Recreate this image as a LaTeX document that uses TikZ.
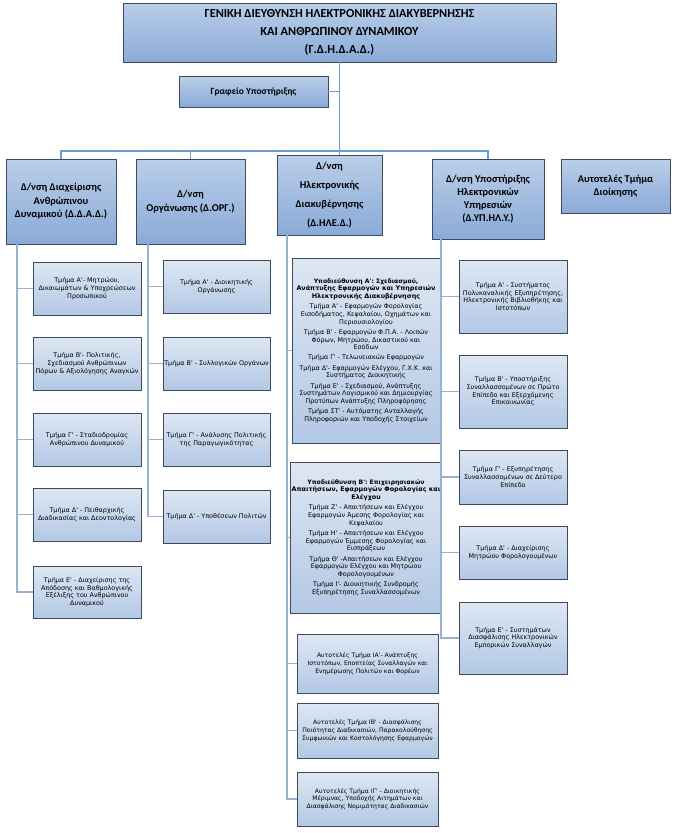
\documentclass[tikz,border=0pt]{standalone}
\usepackage{fontspec}
\setmainfont{Carlito}
\newfontfamily\unitfam{DejaVu Sans}
\usepackage{xcolor}
\usetikzlibrary{positioning,calc}

\definecolor{boxedge}{HTML}{3E4A5C}
\definecolor{headtop}{HTML}{BACEE8}
\definecolor{headbot}{HTML}{8AAAD8}
\definecolor{unittop}{HTML}{DDE7F3}
\definecolor{unitbot}{HTML}{B3C8E5}
\definecolor{linkblue}{HTML}{6A9FD6}
\definecolor{linkgray}{HTML}{9AB0D0}

\newcommand\unitfont{\unitfam\fontsize{6.4}{7.7}\selectfont}
\newcommand\narrowfont{\unitfam\fontsize{6.1}{7.7}\selectfont}

\tikzset{
  headbox/.style={draw=boxedge, line width=0.6pt, top color=headtop, bottom color=headbot,
    align=center, inner sep=1pt, font=\bfseries},
  unitbox/.style={draw=boxedge, line width=0.5pt, top color=unittop, bottom color=unitbot,
    align=center, inner sep=1pt, font=\unitfont},
  mainline/.style={draw=linkblue, line width=1.8pt},
  subline/.style={draw=linkgray, line width=1.4pt},
}

\begin{document}
\begin{tikzpicture}[x=1pt,y=-1pt]
\fill[white] (0,0) rectangle (674,833);
\useasboundingbox (0,0) rectangle (674,833);

% general directorate and office
\node[headbox, minimum width=433, minimum height=59, font=\bfseries\fontsize{12.3}{18}\selectfont]
  (gd) at (339.5,32.5) {ΓΕΝΙΚΗ ΔΙΕΥΘΥΝΣΗ ΗΛΕΚΤΡΟΝΙΚΗΣ ΔΙΑΚΥΒΕΡΝΗΣΗΣ\\ΚΑΙ ΑΝΘΡΩΠΙΝΟΥ ΔΥΝΑΜΙΚΟΥ\\(Γ.Δ.Η.Δ.Α.Δ.)};
\node[headbox, minimum width=149, minimum height=31, font=\bfseries\fontsize{9.5}{11}\selectfont]
  (gyp) at (253.5,91.5) {Γραφείο Υποστήριξης};

% directorates
\node[headbox, minimum width=110, minimum height=85, font=\bfseries\fontsize{10.4}{13.5}\selectfont]
  (dda) at (61,201.5) {Δ/νση Διαχείρισης\\Ανθρώπινου\\Δυναμικού (Δ.Δ.Α.Δ.)};
\node[headbox, minimum width=109, minimum height=85, font=\bfseries\fontsize{10.4}{14}\selectfont]
  (dorg) at (190.5,201.5) {Δ/νση\\Οργάνωσης (Δ.ΟΡΓ.)};
\node[headbox, minimum width=105, minimum height=80, font=\bfseries\fontsize{10.4}{19}\selectfont]
  (dhled) at (329.5,195) {Δ/νση\\Ηλεκτρονικής\\Διακυβέρνησης\\(Δ.ΗΛΕ.Δ.)};
\node[headbox, minimum width=112, minimum height=80, font=\bfseries\fontsize{10.4}{13}\selectfont]
  (dyphly) at (488,199) {Δ/νση Υποστήριξης\\Ηλεκτρονικών\\Υπηρεσιών\\(Δ.ΥΠ.ΗΛ.Υ.)};
\node[headbox, minimum width=109, minimum height=54, font=\bfseries\fontsize{10.4}{13.5}\selectfont]
  (ator) at (615.5,186) {Αυτοτελές Τμήμα\\Διοίκησης};

\coordinate (bus) at (0,151);
\coordinate (c1) at (17,0);
\coordinate (c2) at (148,0);
\coordinate (c3) at (287,0);
\coordinate (c4) at (441,0);

% column 1
\node[unitbox, minimum width=108, minimum height=53] (dda1) at (87,288.5)
  {Τμήμα Α'- Μητρώου,\\Δικαιωμάτων \& Υποχρεώσεων\\Προσωπικού};
\node[unitbox, minimum width=108, minimum height=53] (dda2) at (87,363.5)
  {Τμήμα Β'- Πολιτικής,\\Σχεδιασμού Ανθρώπινων\\Πόρων \& Αξιολόγησης Αναγκών};
\node[unitbox, minimum width=108, minimum height=53] (dda3) at (87,439.5)
  {Τμήμα Γ' - Σταδιοδρομίας\\Ανθρώπινου Δυναμικού};
\node[unitbox, minimum width=108, minimum height=53] (dda4) at (87,514.5)
  {Τμήμα Δ' - Πειθαρχικής\\Διαδικασίας και Δεοντολογίας};
\node[unitbox, minimum width=108, minimum height=52] (dda5) at (87,592)
  {Τμήμα Ε' - Διαχείρισης της\\Απόδοσης και Βαθμολογικής\\Εξέλιξης του Ανθρώπινου\\Δυναμικού};

% column 2
\node[unitbox, minimum width=107, minimum height=53] (dorg1) at (216.5,286.5)
  {Τμήμα Α' - Διοικητικής\\Οργάνωσης};
\node[unitbox, minimum width=107, minimum height=53] (dorg2) at (216.5,363.5)
  {Τμήμα Β' - Συλλογικών Οργάνων};
\node[unitbox, minimum width=107, minimum height=53] (dorg3) at (216.5,439.5)
  {Τμήμα Γ' - Ανάλυσης Πολιτικής\\της Παραγωγικότητας};
\node[unitbox, minimum width=107, minimum height=53] (dorg4) at (216.5,516.5)
  {Τμήμα Δ' - Υποθέσεων Πολιτών};

% column 3
\node[unitbox, minimum width=148, minimum height=185] (dhled1) at (366,350.5)
  {\narrowfont\textbf{Υποδιεύθυνση Α': Σχεδιασμού,}\\\textbf{Ανάπτυξης Εφαρμογών και Υπηρεσιών}\\\textbf{Ηλεκτρονικής Διακυβέρνησης}\\[2.5pt]
   \unitfont Τμήμα Α' - Εφαρμογών Φορολογίας\\Εισοδήματος, Κεφαλαίου, Οχημάτων και\\Περιουσιολογίου\\[2.5pt]
   Τμήμα Β' - Εφαρμογών Φ.Π.Α. - Λοιπών\\Φόρων, Μητρώου, Δικαστικού και\\Εσόδων\\[2.5pt]
   Τμήμα Γ' - Τελωνειακών Εφαρμογών\\[2.5pt]
   Τμήμα Δ'- Εφαρμογών Ελέγχου, Γ.Χ.Κ. και\\Συστήματος Διοικητικής\\[2.5pt]
   Τμήμα Ε' - Σχεδιασμού, Ανάπτυξης\\Συστημάτων Λογισμικού και Δημιουργίας\\Προτύπων Ανάπτυξης Πληροφόρησης\\[2.5pt]
   Τμήμα ΣΤ' - Αυτόματης Ανταλλαγής\\Πληροφοριών και Υποδοχής Στοιχείων};
\node[unitbox, minimum width=148, minimum height=151] (dhled2) at (366,537.5)
  {\narrowfont\textbf{Υποδιεύθυνση Β': Επιχειρησιακών}\\\textbf{Απαιτήσεων, Εφαρμογών Φορολογίας και}\\\textbf{Ελέγχου}\\[2.5pt]
   \unitfont Τμήμα Ζ' - Απαιτήσεων και Ελέγχου\\Εφαρμογών Άμεσης Φορολογίας και\\Κεφαλαίου\\[2.5pt]
   Τμήμα Η' - Απαιτήσεων και Ελέγχου\\Εφαρμογών Έμμεσης Φορολογίας και\\Εισπράξεων\\[2.5pt]
   Τμήμα Θ' -Απαιτήσεων και Ελέγχου\\Εφαρμογών Ελέγχου και Μητρώου\\Φορολογουμένων\\[2.5pt]
   Τμήμα Ι'- Διοικητικής Συνδρομής\\Εξυπηρέτησης Συναλλασσομένων};
\node[unitbox, font=\narrowfont, minimum width=141, minimum height=59] (dhled3) at (367.5,663.5)
  {Αυτοτελές Τμήμα ΙΑ'- Ανάπτυξης\\Ιστοτόπων, Εποπτείας Συναλλαγών και\\Ενημέρωσης Πολιτών και Φορέων};
\node[unitbox, font=\narrowfont, minimum width=141, minimum height=55] (dhled4) at (367.5,730.5)
  {Αυτοτελές Τμήμα ΙΒ' - Διασφάλισης\\Ποιότητας Διαδικασιών, Παρακολούθησης\\Συμφωνιών και Κοστολόγησης Εφαρμογών};
\node[unitbox, font=\narrowfont, minimum width=141, minimum height=54] (dhled5) at (367.5,799)
  {Αυτοτελές Τμήμα ΙΓ' - Διοικητικής\\Μέριμνας, Υποδοχής Αιτημάτων και\\Διασφάλισης Νομιμότητας Διαδικασιών};

% column 4
\node[unitbox, minimum width=108, minimum height=73] (dyphly1) at (513,296.5)
  {Τμήμα Α' - Συστήματος\\Πολυκαναλικής Εξυπηρέτησης,\\Ηλεκτρονικής Βιβλιοθήκης και\\Ιστοτόπων};
\node[unitbox, minimum width=108, minimum height=73] (dyphly2) at (513,391.5)
  {Τμήμα Β' - Υποστήριξης\\Συναλλασσομένων σε Πρώτο\\Επίπεδο και Εξερχόμενης\\Επικοινωνίας};
\node[unitbox, minimum width=108, minimum height=54] (dyphly3) at (513,477)
  {Τμήμα Γ' - Εξυπηρέτησης\\Συναλλασσομένων σε Δεύτερο\\Επίπεδο};
\node[unitbox, minimum width=108, minimum height=53] (dyphly4) at (513,552.5)
  {Τμήμα Δ' - Διαχείρισης\\Μητρώου Φορολογουμένων};
\node[unitbox, minimum width=108, minimum height=72] (dyphly5) at (513,638)
  {Τμήμα Ε' - Συστημάτων\\Διασφάλισης Ηλεκτρονικών\\Εμπορικών Συναλλαγών};

% main links
\draw[mainline] (gd.south) -- (dhled.north -| gd.south);
\draw[mainline] (gyp.east) -- (gyp.east -| gd.south);
\draw[mainline] (dda.north) |- (bus -| dyphly.north) -- (dyphly.north);
\draw[mainline] (dorg.north) -- (dorg.north |- bus);

% column links
\foreach \k in {1,...,5}
  \draw[subline] (c1 |- dda.south) |- (dda\k.west);
\foreach \k in {1,...,4}
  \draw[subline] (c2 |- dorg.south) |- (dorg\k.west);
\foreach \k in {1,...,5}
  \draw[subline] (c3 |- dhled.south) |- (dhled\k.west);
\foreach \k in {1,...,5}
  \draw[subline] (c4 |- dyphly.south) |- (dyphly\k.west);
\end{tikzpicture}
\end{document}
